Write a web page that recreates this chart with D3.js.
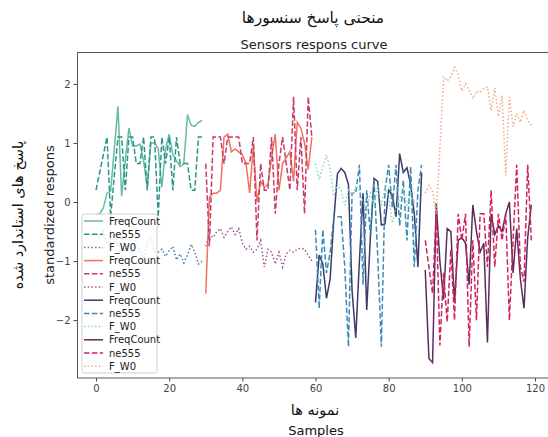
<html>
  <head>
    <meta charset="utf-8">
    <style>
      body { margin:0; background:#fff; }
      text { font-family: "DejaVu Sans", sans-serif; }
      .tick text { font-size:10px; fill:#444; }
      .tick line { stroke:#444; }
      .fa { font-family: "DejaVu Sans", sans-serif; }
    </style>
    <script src="https://cdn.jsdelivr.net/npm/d3@7"></script>
  </head>
  <body>
    <script>
      // sample indices where each sensor block begins
      const groupStarts = [0, 30, 60, 90]
      const seriesNames = ['FreqCount', 'ne555', 'F_W0']
      const xTicks = [0, 20, 40, 60, 80, 100, 120]
      const yTicks = [-2, -1, 0, 1, 2]

      // block 1
      const freqCount1 = [-0.22,-0.2,-0.1,0.15,0.18,0.9,1.62,0.1,0.7,1.25,0.95,0.95,0.98,0.7,0.25,1.0,1.0,0.9,0.25,0.9,1.15,0.8,0.7,0.6,0.65,1.48,1.3,1.28,1.35,1.38]
      const ne555_1 = [0.2,0.5,0.8,1.1,-0.25,0.45,1.1,1.1,0.2,1.1,1.1,0.65,0.65,1.1,0.2,1.1,1.1,-0.25,1.1,0.65,1.1,0.2,1.1,0.65,0.65,0.65,0.2,0.2,1.1,1.1]
      const fw0_1 = [-0.55,-0.6,-0.5,-0.7,-0.65,-0.55,-0.75,-0.6,-0.8,-0.7,-0.9,-0.6,-0.85,-0.95,-0.7,-0.6,-0.85,-0.85,-0.8,-0.92,-0.82,-0.75,-0.98,-0.88,-1.03,-0.9,-0.72,-0.85,-1.05,-1.0]
      // block 2
      const freqCount2 = [-1.55,0.08,0.15,0.15,0.2,1.1,1.15,0.85,0.9,0.85,0.8,0.65,0.15,0.95,0.0,0.35,0.25,0.3,0.75,1.15,0.2,0.65,0.75,0.85,0.35,1.35,1.25,1.0,0.55,1.1]
      const ne555_2 = [0.65,-0.75,1.1,1.1,1.1,0.65,1.1,1.1,1.1,1.1,0.65,0.65,0.65,1.1,-0.65,0.65,0.2,0.2,1.1,-0.2,0.65,1.1,0.65,0.2,1.78,0.2,1.1,-0.2,1.78,1.1]
      const fw0_2 = [-0.75,-0.55,-0.6,-0.5,-0.45,-0.6,-0.5,-0.42,-0.55,-0.45,-0.7,-0.8,-0.75,-0.85,-0.8,-0.65,-1.1,-0.8,-0.85,-1.05,-0.85,-1.1,-0.88,-0.82,-0.85,-0.8,-0.78,-0.8,-0.9,-1.0]
      // block 3
      const freqCount3 = [-1.7,-0.9,-1.05,-1.63,-1.3,-0.3,0.48,0.57,0.5,0.3,-1.5,-2.3,-1.0,0.15,-1.83,-0.6,0.4,0.35,-0.39,-0.37,0.2,0.12,-0.25,0.82,0.5,0.58,0.3,-0.2,-1.1,0.5]
      const ne555_3 = [-0.47,-1.8,-0.47,-1.2,-0.85,-0.25,-0.25,-0.25,-1.1,-2.45,0.15,0.15,0.63,-1.4,0.2,-0.55,0.37,-0.9,-2.45,0.2,0.63,-0.1,0.63,-0.4,0.37,-0.65,0.6,-1.1,0.2,0.63]
      const fw0_3 = [0.65,0.38,0.6,0.8,0.55,0.1,0.3,0.2,-0.05,0.2,0.12,0.25,0.2,0.0,-0.08,0.15,-0.05,0.28,-0.08,0.25,0.1,-0.35,-0.1,0.05,0.2,-0.05,0.12,0.0,0.05,0.1]
      // block 4
      const freqCount4 = [-1.15,-2.65,-2.72,-0.02,-1.0,-1.65,-0.45,-0.5,-1.7,-0.65,-0.6,-0.7,-1.4,-0.05,-0.5,-0.85,-0.7,-2.38,-0.2,-0.55,-0.4,-0.5,-0.2,0.0,-1.2,-0.45,-1.3,-1.8,-0.6,-0.05]
      const ne555_4 = [-0.65,-1.1,-1.55,-0.15,-2.43,-1.2,-2.03,-0.8,-2.0,-0.2,-0.65,-0.2,-2.45,-0.65,-2.0,-0.2,-0.2,-1.1,0.2,-1.1,-0.2,-0.65,-0.2,-2.0,-0.65,0.63,-1.1,-1.35,0.63,-0.65]
      const fw0_4 = [0.15,0.28,0.18,-0.2,0.9,2.12,2.05,2.12,2.28,2.15,1.88,2.0,1.9,1.75,1.88,1.85,1.92,1.95,1.55,1.93,1.45,1.8,0.45,1.78,1.28,1.5,1.35,1.55,1.38,1.3]

      const blocks = [
        [freqCount1, ne555_1, fw0_1],
        [freqCount2, ne555_2, fw0_2],
        [freqCount3, ne555_3, fw0_3],
        [freqCount4, ne555_4, fw0_4],
      ]
      const colors = [
        ['#66bd9e', '#2b958a', '#4a7fa6'],
        ['#f2715c', '#c93a6c', '#a3559a'],
        ['#3c3b6b', '#3b8cb6', '#86d9c2'],
        ['#5d2c5e', '#d0235e', '#f5a883'],
      ]
      const dashes = [null, '5.5,2.4', '1.5,2.2']

      const W = 548, H = 437
      const svg = d3.select('body').append('svg').attr('width', W).attr('height', H)

      const x = d3.scaleLinear().domain([-5.2, 124.1]).range([77, 550])
      const y = d3.scaleLinear().domain([-2.98, 2.54]).range([378, 52])

      // axes
      svg.append('g').attr('transform', 'translate(0,378)')
        .call(d3.axisBottom(x).tickValues(xTicks).tickSize(3.5).tickPadding(3))
        .call(g => g.select('.domain').remove())
      svg.append('g').attr('transform', 'translate(77,0)')
        .call(d3.axisLeft(y).tickValues(yTicks).tickSize(3.5).tickPadding(3).tickFormat(d => d < 0 ? '\u2212' + Math.abs(d) : d))
        .call(g => g.select('.domain').remove())

      const line = d3.line().x(d => x(d[0])).y(d => y(d[1]))
      const $lines = svg.append('g')
      blocks.forEach((series, b) => {
        series.forEach((vals, s) => {
          $lines.append('path')
            .datum(vals.map((v, i) => [groupStarts[b] + i, v]))
            .attr('d', line)
            .attr('fill', 'none')
            .attr('stroke', colors[b][s])
            .attr('stroke-width', 1.5)
            .attr('stroke-dasharray', dashes[s])
        })
      })

      // frame
      svg.append('rect').attr('x', 77.5).attr('y', 52.5).attr('width', 480).attr('height', 325.5)
        .attr('fill', 'none').attr('stroke', '#555').attr('stroke-width', 1)

      // legend
      const lg = svg.append('g').attr('transform', 'translate(82,214)')
      lg.append('rect').attr('width', 75).attr('height', 159).attr('rx', 2.5)
        .attr('fill', 'white').attr('fill-opacity', 0.8).attr('stroke', '#d0d0d0')
      blocks.forEach((series, b) => {
        series.forEach((vals, s) => {
          const row = b * 3 + s
          const yy = 7 + row * 13.2
          lg.append('line').attr('x1', 2).attr('x2', 21).attr('y1', yy).attr('y2', yy)
            .attr('stroke', colors[b][s]).attr('stroke-width', 1.5).attr('stroke-dasharray', dashes[s])
          lg.append('text').attr('x', 27).attr('y', yy).attr('dy', '0.35em')
            .attr('font-size', 10).attr('fill', '#222').text(seriesNames[s])
        })
      })

      // titles
      svg.append('text').attr('class', 'fa').attr('x', 313).attr('y', 23).attr('text-anchor', 'middle')
        .attr('font-size', 15.5).attr('fill', '#111').text('منحنی پاسخ سنسورها')
      svg.append('text').attr('x', 314).attr('y', 49).attr('text-anchor', 'middle')
        .attr('font-size', 13).attr('fill', '#222').text('Sensors respons curve')

      svg.append('text').attr('class', 'fa').attr('x', 315).attr('y', 415).attr('text-anchor', 'middle')
        .attr('font-size', 14.5).attr('fill', '#111').text('نمونه ها')
      svg.append('text').attr('x', 316).attr('y', 435).attr('text-anchor', 'middle')
        .attr('font-size', 13).attr('fill', '#111').text('Samples')

      svg.append('text').attr('class', 'fa').attr('transform', 'translate(23,215) rotate(-90)')
        .attr('text-anchor', 'middle').attr('font-size', 14.5).attr('fill', '#111').text('پاسخ های استاندارد شده')
      svg.append('text').attr('transform', 'translate(54,215) rotate(-90)')
        .attr('text-anchor', 'middle').attr('font-size', 13).attr('fill', '#222').text('standardized respons')
    </script>
  </body>
</html>
